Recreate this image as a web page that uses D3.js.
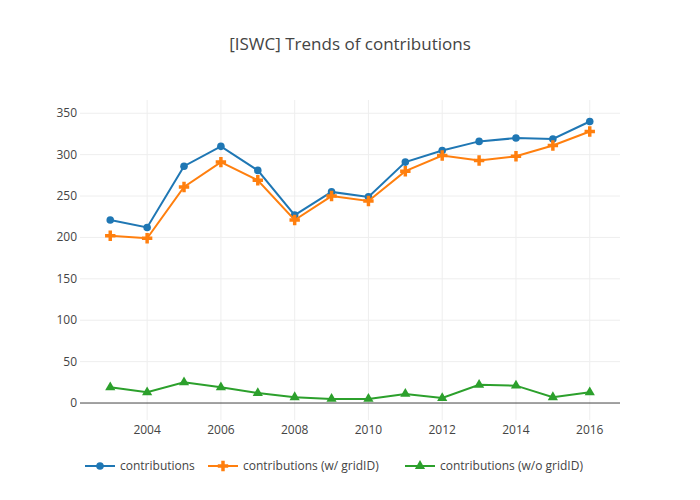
<!DOCTYPE html>
<html><head><meta charset="utf-8">
<script src="https://cdn.jsdelivr.net/npm/d3@7/dist/d3.min.js"></script>
<style>body{margin:0;background:#fff}text{font-family:"Open Sans",Verdana,sans-serif;fill:#444}</style>
</head><body><svg id="c" width="700" height="500"></svg>
<script>
const years=[2003,2004,2005,2006,2007,2008,2009,2010,2011,2012,2013,2014,2015,2016];
const contributions=[221,212,286,310,281,227,255,249,291,305,316,320,319,340];
const withGrid=[202,199,261,291,269,221,250,244,280,299,293,298,311,328];
const withoutGrid=[19,13,25,19,12,7,5,5,11,6,22,21,7,13];
const seriesNames=["contributions","contributions (w/ gridID)","contributions (w/o gridID)"];
const xTicks=[2004,2006,2008,2010,2012,2014,2016];
const yTicks=[0,50,100,150,200,250,300,350];
const colors=["#1f77b4","#ff7f0e","#2ca02c"];
const symbols=[d3.symbolCircle,d3.symbolCross,d3.symbolTriangle];
const svg=d3.select("#c");
const L=80,R=620,T=100,B=420;
const x=d3.scaleLinear().domain([2002.18,2016.82]).range([L,R]);
const y=d3.scaleLinear().domain([-20.5,366]).range([B,T]);
svg.append("text").attr("x",350).attr("y",50).attr("text-anchor","middle").attr("font-size",17).text("[ISWC] Trends of contributions");
const g=svg.append("g");
xTicks.forEach(t=>g.append("line").attr("x1",x(t)).attr("x2",x(t)).attr("y1",T).attr("y2",B).attr("stroke","#eee"));
yTicks.forEach(t=>{g.append("line").attr("x1",L).attr("x2",R).attr("y1",y(t)).attr("y2",y(t)).attr("stroke",t===0?"#444":"#eee");
 g.append("text").attr("x",L-3).attr("y",y(t)+4).attr("text-anchor","end").attr("font-size",12).text(t);});
xTicks.forEach(t=>g.append("text").attr("x",x(t)).attr("y",B+14).attr("text-anchor","middle").attr("font-size",12).text(t));
[contributions,withGrid,withoutGrid].forEach((s,i)=>{
 const line=d3.line().x((d,j)=>x(years[j])).y(d=>y(d));
 g.append("path").attr("d",line(s)).attr("fill","none").attr("stroke",colors[i]).attr("stroke-width",2);
 s.forEach((d,j)=>g.append("path").attr("d",d3.symbol().type(symbols[i]).size(i===1?60:45)()).attr("transform",`translate(${x(years[j])},${y(d)})`).attr("fill",colors[i]));
});
const lx=[85,208,405];
seriesNames.forEach((n,i)=>{
 const lg=svg.append("g").attr("transform",`translate(${lx[i]},466)`);
 lg.append("line").attr("x1",0).attr("x2",30).attr("stroke",colors[i]).attr("stroke-width",2);
 lg.append("path").attr("d",d3.symbol().type(symbols[i]).size(i===1?60:45)()).attr("transform","translate(15,0)").attr("fill",colors[i]);
 lg.append("text").attr("x",35).attr("y",4).attr("font-size",12).text(n);
});
</script></body></html>
